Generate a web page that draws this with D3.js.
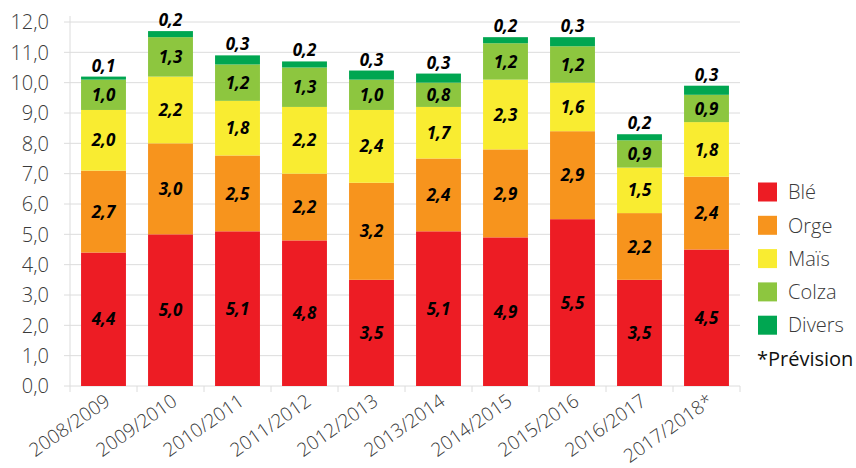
<!DOCTYPE html>
<html>
<head>
<meta charset="utf-8">
<script src="https://cdn.jsdelivr.net/npm/d3@7"></script>
<style>
  body { margin: 0; background: #fff; }
  svg { display: block; }
  .tick-label { font-family: "Open Sans", sans-serif; font-weight: 300; fill: #3a3a3a; }
  .value { font-family: "Open Sans", sans-serif; font-weight: 700; font-style: italic; fill: #000; }
</style>
</head>
<body>
<svg id="chart" width="856" height="468"></svg>
<script>
const seasons = ["2008/2009", "2009/2010", "2010/2011", "2011/2012", "2012/2013",
  "2013/2014", "2014/2015", "2015/2016", "2016/2017", "2017/2018*"];
const crops = ["Blé", "Orge", "Maïs", "Colza", "Divers"];
const ble = [4.4, 5.0, 5.1, 4.8, 3.5, 5.1, 4.9, 5.5, 3.5, 4.5];
const orge = [2.7, 3.0, 2.5, 2.2, 3.2, 2.4, 2.9, 2.9, 2.2, 2.4];
const mais = [2.0, 2.2, 1.8, 2.2, 2.4, 1.7, 2.3, 1.6, 1.5, 1.8];
const colza = [1.0, 1.3, 1.2, 1.3, 1.0, 0.8, 1.2, 1.2, 0.9, 0.9];
const divers = [0.1, 0.2, 0.3, 0.2, 0.3, 0.3, 0.2, 0.3, 0.2, 0.3];
const yTicks = [0, 1, 2, 3, 4, 5, 6, 7, 8, 9, 10, 11, 12];
const colors = ["#ed1c24", "#f7941d", "#f9ec31", "#8dc63f", "#00a651"];

const svg = d3.select("#chart");
const plotLeft = 70, plotRight = 740, plotTop = 22, plotBottom = 386;

const rows = seasons.map((s, i) => ({
  season: s, "Blé": ble[i], "Orge": orge[i], "Maïs": mais[i], "Colza": colza[i], "Divers": divers[i]
}));
const stack = d3.stack().keys(crops)(rows);

const x = d3.scaleBand().domain(seasons).range([plotLeft, plotRight]).paddingInner(0.33).paddingOuter(0.165);
const y = d3.scaleLinear().domain([0, 12]).range([plotBottom, plotTop]);
const fmt = (v) => v.toFixed(1).replace(".", ",");

// grid
svg.append("g").selectAll("line").data(yTicks).join("line")
  .attr("x1", plotLeft - 6).attr("x2", plotRight)
  .attr("y1", (d) => y(d)).attr("y2", (d) => y(d))
  .attr("stroke", "#dcdcdc").attr("stroke-width", 1);
svg.append("line").attr("x1", plotLeft).attr("x2", plotLeft).attr("y1", plotTop - 6).attr("y2", plotBottom)
  .attr("stroke", "#dcdcdc");

// category ticks
const bandStep = x.step();
svg.append("g").selectAll("line").data(d3.range(seasons.length + 1)).join("line")
  .attr("x1", (i) => plotLeft + i * bandStep).attr("x2", (i) => plotLeft + i * bandStep)
  .attr("y1", plotBottom).attr("y2", plotBottom + 6)
  .attr("stroke", "#dcdcdc");

svg.append("g").selectAll("text").data(yTicks).join("text")
  .attr("class", "tick-label")
  .attr("x", 49).attr("y", (d) => y(d))
  .attr("dy", "0.36em").attr("text-anchor", "end")
  .attr("font-size", 20)
  .text(fmt);

// bars
const layers = svg.append("g").selectAll("g").data(stack).join("g")
  .attr("fill", (d, i) => colors[i]);
layers.selectAll("rect").data((d) => d).join("rect")
  .attr("x", (d) => x(d.data.season))
  .attr("width", x.bandwidth())
  .attr("y", (d) => y(d[1]))
  .attr("height", (d) => y(d[0]) - y(d[1]));

// value labels
stack.forEach((layer, li) => {
  const isTop = li === crops.length - 1;
  svg.append("g").selectAll("text").data(layer).join("text")
    .attr("class", "value")
    .attr("font-size", 17)
    .attr("text-anchor", "middle")
    .attr("x", (d) => x(d.data.season) + x.bandwidth() / 2)
    .attr("y", (d) => isTop ? y(d[1]) - 5 : y((d[0] + d[1]) / 2))
    .attr("dy", isTop ? 0 : "0.36em")
    .text((d) => fmt(d[1] - d[0]));
});

// x labels
svg.append("g").selectAll("text").data(seasons).join("text")
  .attr("class", "tick-label")
  .attr("font-size", 19)
  .attr("text-anchor", "end")
  .attr("transform", (d) => `translate(${x(d) + x.bandwidth() / 2 + 8},${plotBottom + 18}) rotate(-35)`)
  .text((d) => d);

// legend
const legend = svg.append("g").selectAll("g").data(crops).join("g")
  .attr("transform", (d, i) => `translate(758,${192 + i * 33.3})`);
legend.append("rect").attr("x", 0).attr("y", -9.5).attr("width", 19).attr("height", 19)
  .attr("fill", (d, i) => colors[i]);
legend.append("text").attr("class", "tick-label").attr("x", 30).attr("dy", "0.36em")
  .attr("font-size", 20).text((d) => d);
svg.append("text").attr("x", 757).attr("y", 359).attr("dy", "0.36em")
  .attr("font-family", "'Open Sans', sans-serif").attr("font-size", 20).attr("fill", "#111")
  .text("*Prévision");
</script>
</body>
</html>
